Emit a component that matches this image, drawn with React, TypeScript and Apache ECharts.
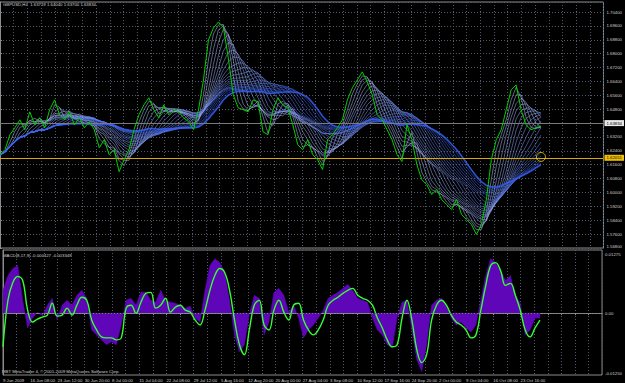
import React, { useEffect, useRef } from "react";
import * as echarts from "echarts";

const HEADER = "GBPUSD,H4  1.63719 1.64040 1.63700 1.63834";
const MACD_HEADER = "MACD(8,17,9) -0.000427 -0.003348";
const COPYRIGHT = "MBT MetaTrader 4, \u00a9 2001-2009 MetaQuotes Software Corp.";

const DATE_LABELS = [
  "9 Jun 2009", "16 Jun 08:00", "23 Jun 12:00", "30 Jun 20:00", "8 Jul 00:00",
  "15 Jul 04:00", "22 Jul 08:00", "29 Jul 12:00", "5 Aug 16:00", "12 Aug 20:00",
  "20 Aug 00:00", "27 Aug 04:00", "3 Sep 08:00", "10 Sep 12:00", "17 Sep 16:00",
  "24 Sep 20:00", "2 Oct 00:00", "9 Oct 04:00", "16 Oct 08:00", "23 Oct 16:00",
];

// close prices, one sample per ~day
const PRICE = [
  1.6218, 1.6247, 1.6333, 1.6373, 1.6419, 1.6362, 1.6465, 1.6390, 1.6431, 1.6373,
  1.6477, 1.6534, 1.6448, 1.6419, 1.6465, 1.6390, 1.6431, 1.6373, 1.6408, 1.6362,
  1.6258, 1.6304, 1.6218, 1.6247, 1.6120, 1.6189, 1.6247, 1.6362, 1.6448, 1.6505,
  1.6546, 1.6477, 1.6431, 1.6505, 1.6448, 1.6477, 1.6465, 1.6431, 1.6408, 1.6362,
  1.6477, 1.6649, 1.6879, 1.6948, 1.6983, 1.6954, 1.6776, 1.6563, 1.6488, 1.6477,
  1.6465, 1.6534, 1.6523, 1.6350, 1.6333, 1.6477, 1.6546, 1.6505, 1.6488, 1.6390,
  1.6275, 1.6247, 1.6304, 1.6218, 1.6189, 1.6132, 1.6304, 1.6333, 1.6373, 1.6419,
  1.6534, 1.6603, 1.6649, 1.6695, 1.6638, 1.6563, 1.6448, 1.6419, 1.6362, 1.6304,
  1.6218, 1.6178, 1.6390, 1.6304, 1.6160, 1.6074, 1.6045, 1.5988, 1.6017, 1.5959,
  1.5930, 1.5902, 1.5959, 1.5873, 1.5844, 1.5815, 1.5758, 1.5815, 1.5959, 1.6189,
  1.6304, 1.6362, 1.6477, 1.6592, 1.6620, 1.6477, 1.6390, 1.6362, 1.6373, 1.6383,
];

const MACD_HIST = [
  0.0046, 0.0076, 0.0090, 0.0096, 0.0026, -0.0030, -0.0010, 0.0002, -0.0006, 0.0016,
  0.0030, -0.0014, 0.0016, 0.0026, 0.0016, 0.0036, 0.0046, 0.0030, -0.0034, -0.0044,
  -0.0054, -0.0064, -0.0058, -0.0064, -0.0024, 0.0026, 0.0030, 0.0016, 0.0042, 0.0042,
  0.0026, 0.0022, 0.0046, 0.0026, 0.0022, 0.0020, 0.0016, 0.0010, 0.0014, -0.0010,
  -0.0018, 0.0046, 0.0096, 0.0110, 0.0102, 0.0082, 0.0026, -0.0044, -0.0078, -0.0064,
  -0.0004, 0.0036, 0.0030, -0.0044, -0.0018, 0.0042, 0.0050, 0.0036, 0.0002, 0.0016,
  -0.0010, -0.0050, -0.0034, -0.0024, -0.0010, 0.0006, 0.0030, 0.0036, 0.0042, 0.0050,
  0.0058, 0.0046, 0.0030, 0.0026, 0.0022, -0.0010, -0.0034, -0.0044, -0.0064, -0.0070,
  -0.0010, 0.0022, 0.0026, -0.0034, -0.0094, -0.0118, -0.0064, 0.0016, 0.0026, 0.0030,
  0.0016, -0.0010, -0.0024, -0.0018, -0.0030, -0.0038, -0.0024, 0.0026, 0.0076, 0.0110,
  0.0102, 0.0086, 0.0066, 0.0076, 0.0036, 0.0020, -0.0044, -0.0034, -0.0010, -0.0010,
];

const MACD_SIGNAL = [
  -0.0068, 0.0026, 0.0062, 0.0074, 0.0066, 0.0006, -0.0018, -0.0012, -0.0008, -0.0004,
  0.0020, -0.0006, -0.0004, 0.0010, -0.0004, 0.0016, 0.0032, 0.0026, -0.0014, -0.0034,
  -0.0048, -0.0050, -0.0050, -0.0054, -0.0050, 0.0010, 0.0016, 0.0000, 0.0022, 0.0040,
  0.0042, 0.0010, 0.0016, 0.0030, 0.0002, 0.0012, 0.0016, 0.0006, 0.0002, -0.0014,
  -0.0024, 0.0006, 0.0046, 0.0076, 0.0090, 0.0082, 0.0046, -0.0014, -0.0064, -0.0084,
  -0.0034, 0.0016, 0.0026, -0.0024, -0.0034, 0.0006, 0.0026, 0.0002, -0.0014, 0.0016,
  0.0020, -0.0014, -0.0034, -0.0044, -0.0034, -0.0014, 0.0016, 0.0026, 0.0032, 0.0040,
  0.0046, 0.0050, 0.0036, 0.0030, 0.0026, 0.0016, -0.0010, -0.0030, -0.0054, -0.0068,
  -0.0064, -0.0010, 0.0026, -0.0014, -0.0074, -0.0100, -0.0084, -0.0014, 0.0016, 0.0026,
  0.0016, -0.0004, -0.0018, -0.0024, -0.0034, -0.0050, -0.0044, 0.0006, 0.0056, 0.0096,
  0.0102, 0.0086, 0.0056, 0.0060, 0.0036, 0.0006, -0.0034, -0.0048, -0.0030, -0.0014,
];

const MA_PERIODS = [2, 3, 4, 5, 6, 7, 8, 9, 10, 11, 12, 13, 14, 15, 16, 17, 18, 19, 20, 21];

const BID = 1.63834;
const LEVEL = 1.62051;

const PRICE_MIN = 1.568;
const PRICE_MAX = 1.7098;
const PRICE_STEP = 0.008;
const MACD_MIN = -0.0125;
const MACD_MAX = 0.01275;

const X_MAX = 121.6; // includes right-side chart shift
const X_STEP = 2.765; // half of a date-label spacing, in samples

function sma(values: number[], period: number): number[] {
  const out: number[] = [];
  for (let i = 0; i < values.length; i++) {
    const s = Math.max(0, i - period + 1);
    let sum = 0;
    for (let j = s; j <= i; j++) sum += values[j];
    out.push(sum / (i - s + 1));
  }
  return out;
}

function mix(a: number[], b: number[], t: number) {
  const c = a.map((v, i) => Math.round(v + (b[i] - v) * t));
  return `rgb(${c[0]},${c[1]},${c[2]})`;
}

export default function App() {
  const ref = useRef<HTMLDivElement>(null);
  useEffect(() => {
    if (!ref.current) return;
    const chart = echarts.init(ref.current, undefined, { renderer: "svg" });
    const FONT = "Liberation Sans";
    const FS = 4.3;
    const gridLine = { show: true, lineStyle: { color: "#525a66", type: [1, 2] as any, width: 1 } };

    const dateFormatter = (v: number) => {
      const k = Math.round(v / X_STEP);
      if (Math.abs(v - k * X_STEP) > 0.01 || k % 2 !== 0) return "";
      return DATE_LABELS[k / 2] || "";
    };

    const ribbon = MA_PERIODS.map((p, idx) => {
      const t = idx / (MA_PERIODS.length - 1);
      const ma = sma(PRICE, p);
      return {
        type: "line",
        xAxisIndex: 0,
        yAxisIndex: 0,
        data: ma.map((v, i) => [i, v]),
        symbol: "none",
        silent: true,
        lineStyle: {
          color: mix([185, 200, 255], [55, 95, 245], t),
          width: idx === MA_PERIODS.length - 1 ? 1.6 : 0.6,
          opacity: 0.85,
        },
        z: 2,
      };
    });

    const option: any = {
      animation: false,
      backgroundColor: "#000000",
      textStyle: { fontFamily: FONT },
      grid: [
        { left: 0, top: 2, width: 608, height: 246, show: true, borderColor: "#8c8c8c", borderWidth: 1 },
        { left: 0, top: 250, width: 608, height: 125, show: true, borderColor: "#8c8c8c", borderWidth: 1 },
      ],
      xAxis: [
        {
          type: "value", gridIndex: 0, min: 0, max: X_MAX, interval: X_STEP,
          axisLine: { show: false }, axisTick: { show: false }, axisLabel: { show: false },
          splitLine: gridLine,
        },
        {
          type: "value", gridIndex: 1, min: 0, max: X_MAX, interval: X_STEP,
          axisLine: { show: true, lineStyle: { color: "#8c8c8c" } },
          axisTick: { show: true, length: 2, lineStyle: { color: "#8c8c8c" } },
          axisLabel: {
            show: true, formatter: dateFormatter, color: "#d0d0d0", fontSize: FS,
            fontFamily: FONT, align: "left", margin: 3, showMaxLabel: false,
          },
          splitLine: gridLine,
        },
      ],
      yAxis: [
        {
          type: "value", gridIndex: 0, position: "right", min: PRICE_MIN, max: PRICE_MAX,
          interval: PRICE_STEP,
          axisLine: { show: true, lineStyle: { color: "#8c8c8c" } },
          axisTick: { show: true, length: 2, lineStyle: { color: "#8c8c8c" } },
          axisLabel: {
            color: "#d0d0d0", fontSize: FS, fontFamily: FONT, margin: 3,
            formatter: (v: number) =>
              Math.abs(v - PRICE_MIN) < 1e-6 ? `{lo|${v.toFixed(5)}}` : v.toFixed(5),
            rich: { lo: { fontSize: FS, color: "#d0d0d0", fontFamily: FONT, padding: [0, 0, 3, 0] } },
            showMaxLabel: false,
          },
          splitLine: gridLine,
        },
        {
          type: "value", gridIndex: 1, position: "right", min: MACD_MIN, max: MACD_MAX,
          axisLine: { show: true, lineStyle: { color: "#8c8c8c" } },
          axisTick: { show: false },
          axisLabel: {
            color: "#d0d0d0", fontSize: FS, fontFamily: FONT, margin: 3,
            customValues: [MACD_MIN, 0, MACD_MAX],
            formatter: (v: number) => {
              if (v === 0) return "0.00";
              if (v > 0) return `{hi|${v.toFixed(5)}}`;
              return `{lo|${v.toFixed(5)}}`;
            },
            rich: {
              hi: { fontSize: FS, color: "#d0d0d0", fontFamily: FONT, padding: [8, 0, 0, 0] },
              lo: { fontSize: FS, color: "#d0d0d0", fontFamily: FONT, padding: [0, 0, 3, 0] },
            },
          },
          splitLine: { show: false },
        },
      ],
      series: [
        ...ribbon,
        {
          type: "line",
          xAxisIndex: 0,
          yAxisIndex: 0,
          data: PRICE.map((v, i) => [i, v]),
          symbol: "none",
          lineStyle: { color: "#00d000", width: 1 },
          z: 5,
          markLine: {
            silent: true,
            symbol: ["none", "none"],
            animation: false,
            data: [
              {
                yAxis: LEVEL,
                lineStyle: { color: "#d9a800", width: 1, type: "solid" },
                label: {
                  position: "end", distance: 1, formatter: LEVEL.toFixed(5), color: "#000",
                  backgroundColor: "#f0c000", fontSize: FS, fontFamily: FONT, padding: [1, 2],
                },
              },
              {
                yAxis: BID,
                lineStyle: { color: "#7a7a7a", width: 1, type: "solid" },
                label: {
                  position: "end", distance: 1, formatter: BID.toFixed(5), color: "#000",
                  backgroundColor: "#e8e8e8", fontSize: FS, fontFamily: FONT, padding: [1, 2],
                },
              },
            ],
          },
        },
        {
          type: "scatter",
          xAxisIndex: 0,
          yAxisIndex: 0,
          data: [[PRICE.length - 1, LEVEL]],
          symbol: "circle",
          symbolSize: 9,
          itemStyle: { color: "rgba(0,0,0,0)", borderColor: "#f0d000", borderWidth: 1 },
          z: 6,
        },
        {
          type: "line",
          xAxisIndex: 1,
          yAxisIndex: 1,
          data: MACD_HIST.map((v, i) => [i, v]),
          symbol: "none",
          lineStyle: { color: "#5e06b8", width: 0.5 },
          areaStyle: { color: "#5e06b8", opacity: 1, origin: 0 },
          z: 2,
          markLine: {
            silent: true,
            symbol: ["none", "none"],
            data: [{ yAxis: 0, lineStyle: { color: "#7a7a7a", type: [1, 2], width: 1 }, label: { show: false } }],
          },
        },
        {
          type: "line",
          xAxisIndex: 1,
          yAxisIndex: 1,
          data: MACD_SIGNAL.map((v, i) => [i, v]),
          symbol: "none",
          smooth: 0.4,
          lineStyle: { color: "#33ff33", width: 1.4 },
          z: 4,
        },
      ],
      graphic: [
        { type: "text", left: 3, top: 2, style: { text: HEADER, fill: "#d0d0d0", fontSize: FS, fontFamily: FONT } },
        { type: "text", left: 3, top: 253, style: { text: MACD_HEADER, fill: "#d0d0d0", fontSize: FS, fontFamily: FONT } },
        { type: "text", left: 2, top: 369, style: { text: COPYRIGHT, fill: "#d0d0d0", fontSize: FS, fontFamily: FONT } },
      ],
    };
    chart.setOption(option);
    return () => chart.dispose();
  }, []);
  return (
    <div
      ref={ref}
      style={{ position: "fixed", left: 0, top: 0, width: 625, height: 383, background: "#000" }}
    />
  );
}
